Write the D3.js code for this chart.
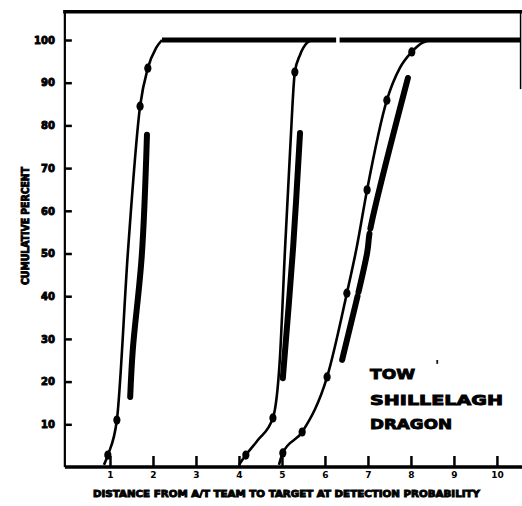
<!DOCTYPE html>
<html>
<head>
	<meta charset="utf-8">
	<title>Cumulative percent vs distance</title>
	<script src="https://d3js.org/d3.v7.min.js"></script>
	<style type="text/css">
		body { margin:0; background:#fff; }
		svg text { font-family:"DejaVu Sans", sans-serif; font-weight:bold; fill:#000; }
		.axis path { display:none; }
		.axis line { stroke:#000; stroke-width:2.5; }
		.heavy { stroke:#000; stroke-width:0.9px; }
	</style>
</head>
<body>
<script type="text/javascript">

	// tick labels
	var xTicks = [1, 2, 3, 4, 5, 6, 7, 8, 9, 10];
	var yTicks = [10, 20, 30, 40, 50, 60, 70, 80, 90, 100];
	var legendNames = ["TOW", "SHILLELAGH", "DRAGON"];

	// [distance, percent]
	var towCurve = [[0.86,0.5],[0.95,2.8],[1.16,11.0],[1.42,50.8],[1.70,84.5],[1.88,93.4],[2.07,98.1],[2.21,100]];
	var towPoints = [[0.95,2.8],[1.16,11.0],[1.70,84.5],[1.88,93.4]];
	var towBar = [[1.86,77.8],[1.74,49.6],[1.53,27.4],[1.47,16.4]];

	var shillelaghCurve = [[4.00,0.5],[4.16,2.8],[4.44,6.3],[4.79,11.5],[4.95,25.1],[5.07,50.8],[5.19,74.2],[5.30,92.5],[5.42,96.5],[5.58,99.3],[5.70,100]];
	var shillelaghPoints = [[4.16,2.8],[4.79,11.5],[5.30,92.5]];
	var shillelaghBar = [[5.42,78.2],[5.26,51.5],[5.02,20.8]];

	var dragonCurve = [[4.93,0.5],[5.02,3.3],[5.47,8.2],[6.05,21.1],[6.51,40.7],[6.74,51.5],[6.98,64.9],[7.44,85.9],[7.74,93.4],[8.02,97.2],[8.26,99.3],[8.44,100]];
	var dragonPoints = [[5.02,3.3],[5.47,8.2],[6.05,21.1],[6.51,40.7],[6.98,64.9],[7.44,85.9],[8.02,97.2]];
	var dragonBar = [[7.93,91.1],[7.05,55.5],[6.98,50.1],[6.40,25.1]];

	// the curves all run along 100 percent to the right edge
	var plateau = [[[2.21,100],[6.26,100]], [[6.34,100],[10.56,100]]];

	var w = 522, h = 506;

	var svg = d3.select("body").append("svg")
		.attr("width", w)
		.attr("height", h);

	var x = d3.scaleLinear().domain([0, 10.56]).range([67, 521]);
	var y = d3.scaleLinear().domain([0, 100]).range([467, 40]);

	// frame: top rule, left axis line, short right edge, bottom axis line
	svg.append("line").attr("x1", x(-0.09)).attr("x2", w).attr("y1", y(106.6)).attr("y2", y(106.6))
		.attr("stroke", "#000").attr("stroke-width", 3.5);
	svg.append("line").attr("x1", x(-0.05)).attr("x2", x(-0.05)).attr("y1", y(106.6)).attr("y2", y(0))
		.attr("stroke", "#000").attr("stroke-width", 2.2);
	svg.append("line").attr("x1", x(10.55)).attr("x2", x(10.55)).attr("y1", y(106.6)).attr("y2", y(88.5))
		.attr("stroke", "#000").attr("stroke-width", 1.5);
	svg.append("line").attr("x1", x(-0.05)).attr("x2", w).attr("y1", y(0)).attr("y2", y(0))
		.attr("stroke", "#000").attr("stroke-width", 3.5);

	// y axis, ticks pointing inward
	svg.append("g")
		.attr("class", "axis")
		.attr("transform", "translate(" + x(-0.05) + ",0)")
		.call(d3.axisLeft(y).tickValues(yTicks).tickSize(-7).tickPadding(10))
		.selectAll("text")
			.attr("class", "heavy")
			.attr("font-size", "10px")
			.style("font-family", "DejaVu Sans, sans-serif");

	// x axis, ticks pointing up into the plot
	svg.append("g")
		.attr("class", "axis")
		.attr("transform", "translate(0," + y(0) + ")")
		.call(d3.axisBottom(x).tickValues(xTicks).tickSize(-11).tickPadding(5))
		.selectAll("text")
			.attr("font-size", "9px")
			.style("font-family", "DejaVu Sans, sans-serif");

	var line = d3.line()
		.x(function(d){ return x(d[0]); })
		.y(function(d){ return y(d[1]); })
		.curve(d3.curveMonotoneX);

	var barLine = d3.line()
		.x(function(d){ return x(d[0]); })
		.y(function(d){ return y(d[1]); })
		.curve(d3.curveCatmullRom);

	// thick companion strokes
	[[towBar, null], [shillelaghBar, null], [dragonBar, "155,5,60,4,300"]].forEach(function(b){
		svg.append("path")
			.attr("d", barLine(b[0]))
			.attr("fill", "none")
			.attr("stroke", "#000")
			.attr("stroke-width", 6)
			.attr("stroke-linecap", "round")
			.attr("stroke-dasharray", b[1]);
	});

	// thin curves with dot markers
	[[towCurve, towPoints], [shillelaghCurve, shillelaghPoints], [dragonCurve, dragonPoints]].forEach(function(c){
		svg.append("path")
			.attr("d", line(c[0]))
			.attr("fill", "none")
			.attr("stroke", "#000")
			.attr("stroke-width", 2.6);

		svg.selectAll(null)
			.data(c[1])
			.enter()
			.append("ellipse")
				.attr("cx", function(d){ return x(d[0]); })
				.attr("cy", function(d){ return y(d[1]); })
				.attr("rx", 3.6)
				.attr("ry", 4.6)
				.attr("fill", "#000");
	});

	plateau.forEach(function(p){
		svg.append("path")
			.attr("d", line(p))
			.attr("fill", "none")
			.attr("stroke", "#000")
			.attr("stroke-width", 5);
	});

	// legend block
	var legendLen = [45, 133, 82];
	var legendY = [379, 405, 429];
	svg.selectAll(".legend")
		.data(legendNames)
		.enter()
		.append("text")
			.attr("class", "legend heavy")
			.attr("x", 370)
			.attr("y", function(d, i){ return legendY[i]; })
			.attr("font-size", "14px")
			.attr("textLength", function(d, i){ return legendLen[i]; })
			.attr("lengthAdjust", "spacingAndGlyphs")
			.text(function(d){ return d; });

	svg.append("text")
		.attr("x", 435).attr("y", 370)
		.attr("font-size", "14px")
		.text("'");

	// axis titles
	svg.append("text")
		.attr("class", "heavy")
		.attr("transform", "translate(29,226) rotate(-90)")
		.attr("text-anchor", "middle")
		.attr("font-size", "10px")
		.attr("textLength", 118)
		.attr("lengthAdjust", "spacingAndGlyphs")
		.text("CUMULATIVE PERCENT");

	svg.append("text")
		.attr("class", "heavy")
		.attr("x", 93)
		.attr("y", 497)
		.attr("font-size", "9px")
		.attr("textLength", 387)
		.attr("lengthAdjust", "spacingAndGlyphs")
		.text("DISTANCE FROM A/T TEAM TO TARGET AT DETECTION PROBABILITY");

</script>
</body>
</html>
